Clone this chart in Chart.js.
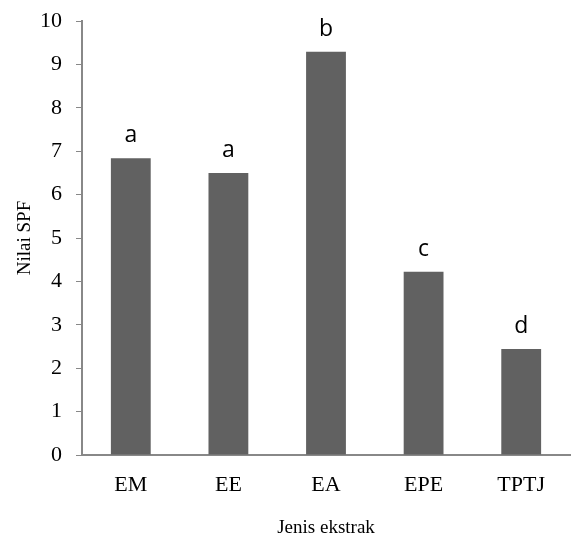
<!DOCTYPE html>
<html>
<head>
<meta charset="utf-8">
<script src="https://cdn.jsdelivr.net/npm/chart.js@4"></script>
<style>
  body { margin: 0; background: #fff; }
  #wrap { width: 571px; height: 543px; }
</style>
</head>
<body>
<div id="wrap"><canvas id="myChart"></canvas></div>
<script>
const extracts = ['EM', 'EE', 'EA', 'EPE', 'TPTJ'];
const spfValues = [6.84, 6.5, 9.29, 4.22, 2.44];
const groupLetters = ['a', 'a', 'b', 'c', 'd'];

// letters above the bars
const letterPlugin = {
  id: 'letters',
  afterDatasetsDraw(chart) {
    const ctx = chart.ctx;
    const meta = chart.getDatasetMeta(0);
    ctx.save();
    ctx.font = '23px "Open Sans", "Liberation Sans", sans-serif';
    ctx.fillStyle = '#000';
    ctx.textAlign = 'center';
    ctx.textBaseline = 'alphabetic';
    meta.data.forEach((bar, i) => {
      ctx.fillText(groupLetters[i], bar.x, bar.y - 16);
    });
    ctx.restore();
  }
};

const serifFam = '"Liberation Serif", "Times New Roman", serif';
const tickFont = { family: serifFam, size: 22 };
const titleFont = { family: serifFam, size: 19 };

new Chart(document.getElementById('myChart'), {
  type: 'bar',
  data: {
    labels: extracts,
    datasets: [{
      data: spfValues,
      backgroundColor: '#616161',
      borderWidth: 0,
      barPercentage: 0.8,
      categoryPercentage: 0.51
    }]
  },
  options: {
    responsive: true,
    maintainAspectRatio: false,
    animation: false,
    layout: { padding: { top: 21, right: 1, left: 10 } },
    plugins: { legend: { display: false }, tooltip: { enabled: false } },
    scales: {
      y: {
        min: 0,
        max: 10,
        ticks: { stepSize: 1, color: '#000', font: tickFont, padding: 14 },
        grid: { drawOnChartArea: false, color: '#888', tickLength: 6, tickColor: '#888' },
        border: { color: '#888', width: 2 },
        title: { display: true, text: 'Nilai SPF', color: '#000', font: titleFont, padding: 4 },
        afterFit(axis) { axis.width = 72; axis.paddingTop = 0; axis.paddingBottom = 0; }
      },
      x: {
        ticks: { color: '#000', font: tickFont, padding: 9 },
        grid: { display: false },
        border: { color: '#888', width: 2 },
        title: { display: true, text: 'Jenis ekstrak', color: '#000', font: titleFont, padding: { top: 21 } },
        afterFit(axis) { axis.height = 88; }
      }
    }
  },
  plugins: [letterPlugin]
});
</script>
</body>
</html>
